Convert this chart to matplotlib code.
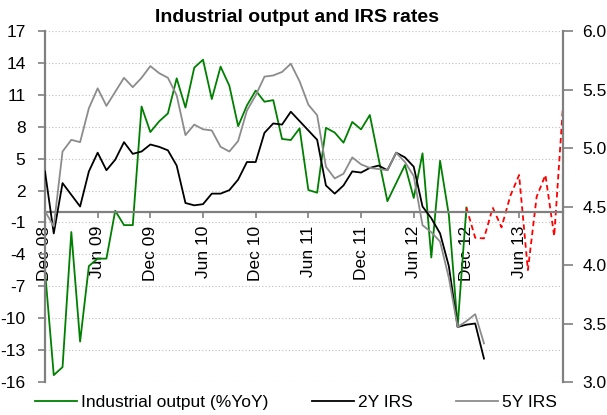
import numpy as np
import matplotlib
matplotlib.use('Agg')
import matplotlib.pyplot as plt

plt.rcParams['font.family'] = ['Liberation Sans', 'DejaVu Sans']
plt.rcParams['axes.unicode_minus'] = False

# monthly series starting Dec 08
tick_labels = ['Dec 08', 'Jun 09', 'Dec 09', 'Jun 10', 'Dec 10', 'Jun 11',
               'Dec 11', 'Jun 12', 'Dec 12', 'Jun 13']

# industrial output %YoY, Dec 08 - Dec 12 (left axis)
output = [-5.5, -15.35, -14.6, -1.9, -12.2, -5.1, -4.4, -4.4, 0.1, -1.25,
          -1.25, 9.9, 7.5, 8.5, 9.25, 12.55, 9.8, 13.55, 14.3, 10.6,
          13.65, 11.85, 8.05, 10.0, 11.4, 10.35, 10.5, 6.85, 6.75, 7.85,
          2.05, 1.8, 7.9, 7.45, 6.5, 8.45, 7.75, 9.1, 5.0, 1.0,
          2.7, 4.4, 1.3, 5.5, -4.3, 4.8, -0.3, -10.8, 0.4]
# forecast, Dec 12 - Nov 13 (left axis)
forecast = [0.4, -2.44, -2.5, 0.39, -1.46, 1.5, 3.46, -5.48, 1.42, 3.46,
            -2.28, 9.95]

# IRS rates, Dec 08 - Feb 13 (right axis)
irs2y = [4.80, 4.27, 4.70, 4.60, 4.50, 4.80, 4.96, 4.81, 4.90, 5.05,
         4.95, 4.97, 5.03, 5.01, 4.98, 4.85, 4.53, 4.51, 4.52, 4.61,
         4.61, 4.64, 4.73, 4.88, 4.88, 5.13, 5.21, 5.20, 5.31, 5.23,
         5.15, 5.07, 4.68, 4.61, 4.68, 4.80, 4.79, 4.83, 4.85, 4.81,
         4.96, 4.92, 4.84, 4.50, 4.40, 4.27, 3.99, 3.47, 3.49, 3.50,
         3.20]
irs5y = [4.46, 4.33, 4.97, 5.07, 5.05, 5.34, 5.51, 5.36, 5.48, 5.60,
         5.52, 5.60, 5.70, 5.64, 5.60, 5.45, 5.11, 5.20, 5.16, 5.15,
         5.01, 4.97, 5.06, 5.32, 5.45, 5.61, 5.62, 5.65, 5.72, 5.57,
         5.37, 5.28, 4.84, 4.74, 4.78, 4.92, 4.86, 4.83, 4.82, 4.81,
         4.96, 4.88, 4.76, 4.34, 4.28, 4.20, 3.89, 3.47, 3.52, 3.58,
         3.33]

x_out = np.arange(len(output))
x_fc = np.arange(len(output) - 1, len(output) - 1 + len(forecast))
x_irs = np.arange(len(irs2y))

grey = '#808080'
fs = 12.5

fig = plt.figure(figsize=(6.07, 4.15), dpi=100)
ax = fig.add_axes([0.0741, 0.0795, 0.8534, 0.8458])
ax2 = ax.twinx()

l1, = ax.plot(x_out, output, color='#008000', lw=1.3)
ax.plot(x_fc, forecast, color='#ff0000', lw=1.3, linestyle=(0, (3, 2)))
l2, = ax2.plot(x_irs, irs2y, color='black', lw=1.3)
l3, = ax2.plot(x_irs, irs5y, color='#8c8c8c', lw=1.3)

ax.set_xlim(0, 59)
ax.set_ylim(-16, 17)
ax2.set_ylim(3, 6)
ax.set_yticks(np.arange(-16, 18, 3))
ax2.set_yticks(np.arange(3, 6.01, 0.5))
ax2.set_yticklabels(['%.1f' % v for v in np.arange(3, 6.01, 0.5)])
ax.set_xticks(np.arange(0, 59, 6))
ax.set_xticklabels(tick_labels)

ax.yaxis.grid(True, linestyle=(0, (1, 2)), color='#bfbfbf', lw=0.8)
ax.set_axisbelow(True)

for s in ['top', 'right']:
    ax.spines[s].set_visible(False)
for s in ['top', 'left', 'bottom']:
    ax2.spines[s].set_visible(False)
ax.spines['bottom'].set_position(('data', 0))
for sp in [ax.spines['left'], ax.spines['bottom'], ax2.spines['right']]:
    sp.set_color(grey)
    sp.set_linewidth(1.6)

ax.tick_params(axis='y', direction='out', length=5, width=1.2, color=grey,
               labelsize=fs, pad=9)
ax.tick_params(axis='x', direction='out', length=4, width=1.2, color=grey,
               labelsize=fs, pad=6, labelrotation=90)
ax2.tick_params(axis='y', direction='out', length=7, width=1.2, color=grey,
                labelsize=fs, pad=7)

fig.text(0.49, 0.957, 'Industrial output and IRS rates', ha='center',
         va='center', fontsize=14, fontweight='bold')

fig.legend([l1, l2, l3], ['Industrial output (%YoY)', '2Y IRS', '5Y IRS'],
           loc='center', bbox_to_anchor=(0.488, 0.031), ncol=3, frameon=False,
           fontsize=fs, handlelength=2.4, handletextpad=0.25,
           columnspacing=2.5, borderpad=0, borderaxespad=0)

fig.savefig('out.png', dpi=100)
